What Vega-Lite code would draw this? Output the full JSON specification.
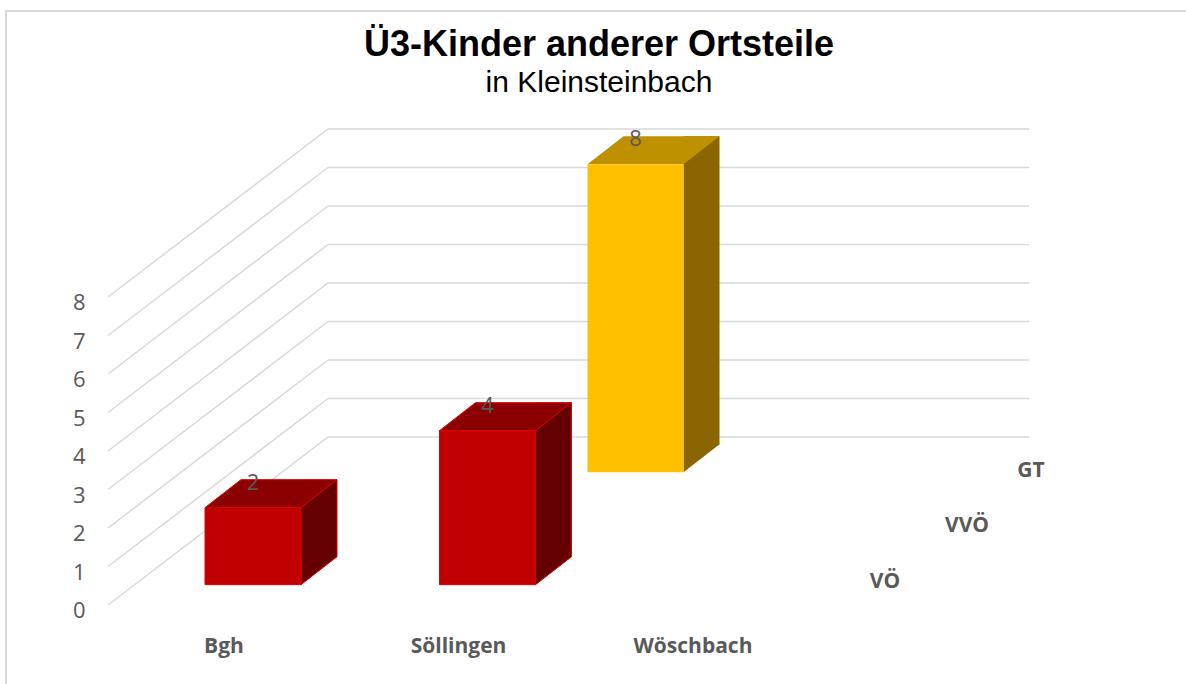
{
  "$schema": "https://vega.github.io/schema/vega-lite/v6.json",
  "width": 1200,
  "height": 708.4,
  "autosize": {"type": "none"},
  "padding": {"left": 6, "top": 11, "right": -20, "bottom": -35.4},
  "background": "white",
  "view": {"stroke": "#D9D9D9", "strokeWidth": 2},
  "title": {
    "text": "Ü3-Kinder anderer Ortsteile",
    "subtitle": "in Kleinsteinbach",
    "anchor": "middle",
    "frame": "group",
    "offset": -88,
    "dx": -7,
    "font": "Liberation Sans",
    "fontSize": 36,
    "fontWeight": "bold",
    "color": "#000000",
    "subtitleFont": "Liberation Sans",
    "subtitleFontSize": 30,
    "subtitleColor": "#000000",
    "subtitlePadding": 4
  },
  "datasets": {
    "bars": [
      {"Ortsteil": "Bgh", "Gruppe": "VÖ", "Anzahl": 2},
      {"Ortsteil": "Söllingen", "Gruppe": "VÖ", "Anzahl": 4},
      {"Ortsteil": "Wöschbach", "Gruppe": "GT", "Anzahl": 8}
    ],
    "ticks": [{"v": 0}, {"v": 1}, {"v": 2}, {"v": 3}, {"v": 4}, {"v": 5}, {"v": 6}, {"v": 7}, {"v": 8}],
    "gruppen": [{"Gruppe": "VÖ"}, {"Gruppe": "VVÖ"}, {"Gruppe": "GT"}]
  },
  "layer": [
    {
      "data": {"name": "ticks"},
      "mark": {"type": "rule", "color": "#D9D9D9", "strokeWidth": 1.5, "xOffset": 123, "x2Offset": 355, "yOffset": -147.65, "y2Offset": -147.65},
      "encoding": {
        "x": {"datum": "Bgh", "type": "nominal", "bandPosition": 0, "title": null, "scale": {"type": "band", "domain": ["Bgh", "Söllingen", "Wöschbach"], "range": [199, 764], "paddingInner": 0.59062, "paddingOuter": 0}},
        "x2": {"datum": "Wöschbach", "bandPosition": 0},
        "y": {"field": "v", "type": "quantitative", "title": null, "scale": {"domain": [-3.5, 14.9], "nice": false, "zero": false},
          "axis": {"values": [0, 1, 2, 3, 4, 5, 6, 7, 8], "title": null, "grid": false, "domain": false, "ticks": false, "tickSize": 0, "labelPadding": 0, "offset": -79, "labelOffset": 26, "labelFont": "Open Sans", "labelFontSize": 22, "labelColor": "#595959"}},
        "y2": {"field": "v"}
      }
    },
    {
      "data": {"name": "ticks"},
      "mark": {"type": "rule", "color": "#D9D9D9", "strokeWidth": 1.5, "xOffset": -97, "x2Offset": 123, "yOffset": 20.35, "y2Offset": -147.65},
      "encoding": {
        "x": {"datum": "Bgh", "type": "nominal", "bandPosition": 0, "title": null},
        "x2": {"datum": "Bgh", "bandPosition": 0},
        "y": {"field": "v", "type": "quantitative", "title": null},
        "y2": {"field": "v"}
      }
    },
    {
      "data": {"name": "bars"},
      "transform": [{"filter": "datum.Gruppe == 'GT'"}],
      "layer": [
        {
          "mark": {"type": "bar", "color": "#8B6600", "width": 36, "xOffset": -20.5, "yOffset": -140.35, "y2Offset": -139.6},
          "encoding": {
            "x": {"field": "Ortsteil", "type": "nominal", "title": null},
            "y": {"field": "Anzahl", "type": "quantitative", "stack": null, "title": null},
            "y2": {"datum": 0}
          }
        },
        {
          "mark": {"type": "point", "shape": "M48,-28L48,0L84,-28", "size": 4, "filled": true, "opacity": 1, "color": "#8B6600", "xOffset": -86.5, "yOffset": -112.35},
          "encoding": {
            "x": {"field": "Ortsteil", "type": "nominal", "bandPosition": 0.5, "title": null},
            "y": {"datum": 0, "type": "quantitative", "title": null}
          }
        },
        {
          "mark": {"type": "point", "shape": "M-48,0L48,0L84,-28L-12,-28Z", "size": 4, "filled": true, "opacity": 1, "color": "#BF9000", "xOffset": -86.5, "yOffset": -112.35},
          "encoding": {
            "x": {"field": "Ortsteil", "type": "nominal", "bandPosition": 0.5, "title": null},
            "y": {"field": "Anzahl", "type": "quantitative", "title": null}
          }
        },
        {
          "mark": {"type": "bar", "color": "#FFC000", "xOffset": -86.5, "yOffset": -112.35, "y2Offset": -112.35},
          "encoding": {
            "x": {"field": "Ortsteil", "type": "nominal", "title": null},
            "y": {"field": "Anzahl", "type": "quantitative", "stack": null, "title": null},
            "y2": {"datum": 0}
          }
        },
        {
          "mark": {"type": "text", "color": "#595959", "font": "Open Sans", "fontSize": 22, "baseline": "middle", "align": "center", "xOffset": -86.5, "yOffset": -137.35},
          "encoding": {
            "x": {"field": "Ortsteil", "type": "nominal", "bandPosition": 0.5, "title": null},
            "y": {"field": "Anzahl", "type": "quantitative", "title": null},
            "text": {"field": "Anzahl", "type": "quantitative"}
          }
        }
      ]
    },
    {
      "data": {"name": "bars"},
      "transform": [{"filter": "datum.Gruppe == 'VÖ'"}],
      "layer": [
        {
          "mark": {"type": "bar", "color": "#640000", "width": 36, "xOffset": 66, "yOffset": -28, "y2Offset": -27.3},
          "encoding": {
            "x": {"field": "Ortsteil", "type": "nominal", "title": null},
            "y": {"field": "Anzahl", "type": "quantitative", "stack": null, "title": null},
            "y2": {"datum": 0}
          }
        },
        {
          "mark": {"type": "point", "shape": "M48,-28L48,0L84,-28", "size": 4, "filled": true, "opacity": 1, "fill": "#640000", "stroke": "#E00000", "strokeWidth": 1},
          "encoding": {
            "x": {"field": "Ortsteil", "type": "nominal", "bandPosition": 0.5, "title": null},
            "y": {"datum": 0, "type": "quantitative", "title": null}
          }
        },
        {
          "mark": {"type": "rule", "color": "#E00000", "strokeWidth": 1, "xOffset": 84, "yOffset": -28, "y2Offset": -28},
          "encoding": {
            "x": {"field": "Ortsteil", "type": "nominal", "bandPosition": 0.5, "title": null},
            "y": {"field": "Anzahl", "type": "quantitative", "title": null},
            "y2": {"datum": 0}
          }
        },
        {
          "mark": {"type": "point", "shape": "M-48,0L48,0L84,-28L-12,-28Z", "size": 4, "filled": true, "opacity": 1, "fill": "#8B0000", "stroke": "#E00000", "strokeWidth": 1},
          "encoding": {
            "x": {"field": "Ortsteil", "type": "nominal", "bandPosition": 0.5, "title": null},
            "y": {"field": "Anzahl", "type": "quantitative", "title": null}
          }
        },
        {
          "mark": {"type": "bar", "color": "#C00000", "stroke": "#E00000", "strokeWidth": 1},
          "encoding": {
            "x": {"field": "Ortsteil", "type": "nominal", "title": null,
              "axis": {"title": null, "grid": false, "domain": false, "ticks": false, "tickSize": 0, "labelPadding": 0, "offset": -73, "labelOffset": -29, "labelAngle": 0, "labelAlign": "center", "labelFont": "Open Sans", "labelFontSize": 21, "labelFontWeight": "bold", "labelColor": "#595959"}},
            "y": {"field": "Anzahl", "type": "quantitative", "stack": null, "title": null},
            "y2": {"datum": 0}
          }
        },
        {
          "mark": {"type": "text", "color": "#595959", "font": "Open Sans", "fontSize": 22, "baseline": "middle", "align": "center", "yOffset": -25},
          "encoding": {
            "x": {"field": "Ortsteil", "type": "nominal", "bandPosition": 0.5, "title": null},
            "y": {"field": "Anzahl", "type": "quantitative", "title": null},
            "text": {"field": "Anzahl", "type": "quantitative"}
          }
        }
      ]
    },
    {
      "data": {"name": "gruppen"},
      "transform": [{"filter": "datum.Gruppe == 'VÖ'"}],
      "mark": {"type": "text", "color": "#595959", "font": "Open Sans", "fontSize": 21, "fontWeight": "bold", "baseline": "middle", "align": "center", "xOffset": 163, "yOffset": -2.5},
      "encoding": {
        "x": {"datum": "Wöschbach", "type": "nominal", "bandPosition": 0.5, "title": null},
        "y": {"datum": 0, "type": "quantitative", "title": null},
        "text": {"field": "Gruppe", "type": "nominal"}
      }
    },
    {
      "data": {"name": "gruppen"},
      "transform": [{"filter": "datum.Gruppe == 'VVÖ'"}],
      "mark": {"type": "text", "color": "#595959", "font": "Open Sans", "fontSize": 21, "fontWeight": "bold", "baseline": "middle", "align": "center", "xOffset": 245, "yOffset": -59},
      "encoding": {
        "x": {"datum": "Wöschbach", "type": "nominal", "bandPosition": 0.5, "title": null},
        "y": {"datum": 0, "type": "quantitative", "title": null},
        "text": {"field": "Gruppe", "type": "nominal"}
      }
    },
    {
      "data": {"name": "gruppen"},
      "transform": [{"filter": "datum.Gruppe == 'GT'"}],
      "mark": {"type": "text", "color": "#595959", "font": "Open Sans", "fontSize": 21, "fontWeight": "bold", "baseline": "middle", "align": "center", "xOffset": 309, "yOffset": -114},
      "encoding": {
        "x": {"datum": "Wöschbach", "type": "nominal", "bandPosition": 0.5, "title": null},
        "y": {"datum": 0, "type": "quantitative", "title": null},
        "text": {"field": "Gruppe", "type": "nominal"}
      }
    }
  ],
  "config": {"font": "Open Sans"}
}
